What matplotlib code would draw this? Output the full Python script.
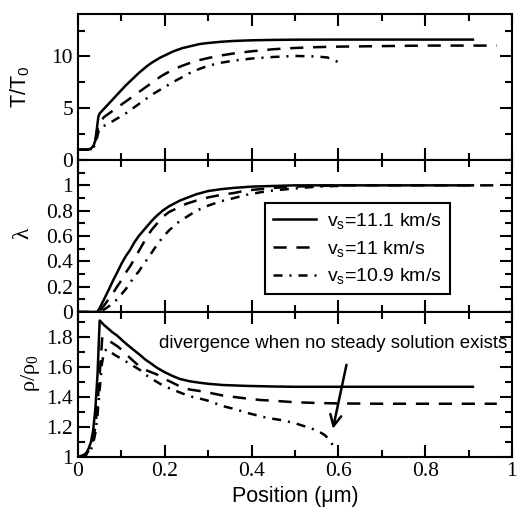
import matplotlib
matplotlib.use('Agg')
import matplotlib.pyplot as plt
from matplotlib.ticker import MultipleLocator

plt.rcParams['font.family'] = 'Liberation Sans'
plt.rcParams['mathtext.fontset'] = 'custom'
plt.rcParams['mathtext.rm'] = 'Liberation Sans'
plt.rcParams['mathtext.it'] = 'Liberation Sans:italic'
plt.rcParams['mathtext.default'] = 'regular'
plt.rcParams['lines.scale_dashes'] = False

# temperature panel, T/T0
t_x_111 = [0, 0.02, 0.03, 0.036, 0.04, 0.044, 0.047, 0.05, 0.06, 0.07, 0.08, 0.09, 0.1,
           0.11, 0.12, 0.13, 0.14, 0.15, 0.16, 0.17, 0.18, 0.19, 0.2, 0.22, 0.24, 0.26,
           0.28, 0.3, 0.33, 0.36, 0.4, 0.45, 0.5, 0.6, 0.7, 0.8, 0.91]
t_y_111 = [1, 1, 1.1, 1.4, 1.9, 3.2, 4.2, 4.5, 4.95, 5.4, 5.85, 6.3, 6.75,
           7.2, 7.6, 8.0, 8.4, 8.75, 9.1, 9.4, 9.65, 9.9, 10.1, 10.5, 10.8, 11.0,
           11.2, 11.3, 11.42, 11.5, 11.56, 11.6, 11.62, 11.63, 11.63, 11.63, 11.63]
t_x_110 = [0, 0.02, 0.03, 0.036, 0.04, 0.045, 0.05, 0.06, 0.07, 0.08, 0.09, 0.1, 0.11,
           0.12, 0.13, 0.14, 0.15, 0.16, 0.17, 0.18, 0.19, 0.2, 0.22, 0.24, 0.26, 0.28,
           0.3, 0.33, 0.36, 0.4, 0.45, 0.5, 0.55, 0.6, 0.7, 0.8, 0.965]
t_y_110 = [1, 1, 1.05, 1.3, 1.8, 3.0, 3.6, 4.15, 4.45, 4.75, 5.05, 5.35, 5.65,
           5.95, 6.25, 6.55, 6.85, 7.15, 7.45, 7.75, 8.05, 8.3, 8.75, 9.1, 9.4, 9.65,
           9.85, 10.1, 10.3, 10.5, 10.7, 10.82, 10.9, 10.95, 11.0, 11.05, 11.05]
t_x_109 = [0, 0.02, 0.03, 0.037, 0.042, 0.047, 0.05, 0.06, 0.07, 0.08, 0.09, 0.1, 0.11,
           0.12, 0.13, 0.14, 0.15, 0.16, 0.17, 0.18, 0.19, 0.2, 0.22, 0.24, 0.26, 0.28,
           0.3, 0.33, 0.36, 0.4, 0.45, 0.5, 0.55, 0.575, 0.6]
t_y_109 = [1, 1, 1.05, 1.3, 1.8, 2.7, 3.1, 3.3, 3.5, 3.75, 4.0, 4.25, 4.5,
           4.8, 5.1, 5.4, 5.7, 6.0, 6.3, 6.55, 6.8, 7.05, 7.55, 8.0, 8.45, 8.8,
           9.1, 9.4, 9.6, 9.8, 9.95, 10.05, 10.0, 9.9, 9.45]

# reaction progress panel, lambda
l_x_111 = [0, 0.044, 0.05, 0.06, 0.07, 0.081, 0.09, 0.1, 0.11, 0.12, 0.13, 0.14, 0.15,
           0.16, 0.17, 0.18, 0.195, 0.21, 0.235, 0.25, 0.273, 0.3, 0.33, 0.36, 0.4,
           0.45, 0.5, 0.6, 0.7, 0.8, 0.91]
l_y_111 = [0, 0, 0.03, 0.1, 0.17, 0.25, 0.31, 0.38, 0.44, 0.49, 0.55, 0.6, 0.64,
           0.68, 0.72, 0.755, 0.8, 0.835, 0.88, 0.9, 0.93, 0.955, 0.97, 0.98, 0.99,
           0.995, 1, 1, 1, 1, 1]
l_x_110 = [0, 0.048, 0.06, 0.07, 0.081, 0.09, 0.1, 0.11, 0.12, 0.13, 0.14, 0.15, 0.158,
           0.17, 0.18, 0.195, 0.21, 0.235, 0.25, 0.273, 0.3, 0.33, 0.36, 0.388, 0.42,
           0.45, 0.5, 0.55, 0.6, 0.7, 0.8, 0.965]
l_y_110 = [0, 0, 0.05, 0.1, 0.15, 0.2, 0.25, 0.31, 0.36, 0.42, 0.48, 0.54, 0.59,
           0.65, 0.69, 0.75, 0.79, 0.83, 0.855, 0.88, 0.905, 0.925, 0.94, 0.96, 0.97,
           0.98, 0.99, 0.995, 1, 1, 1, 1]
l_x_109 = [0, 0.05, 0.065, 0.081, 0.09, 0.1, 0.11, 0.12, 0.13, 0.14, 0.15, 0.158, 0.17,
           0.18, 0.195, 0.21, 0.235, 0.25, 0.273, 0.3, 0.33, 0.36, 0.388, 0.42, 0.45,
           0.5, 0.55, 0.6]
l_y_109 = [0, 0, 0.03, 0.07, 0.1, 0.14, 0.18, 0.23, 0.28, 0.32, 0.37, 0.41, 0.47,
           0.52, 0.59, 0.645, 0.72, 0.75, 0.8, 0.84, 0.875, 0.9, 0.925, 0.945, 0.96,
           0.975, 0.99, 0.995]

# density panel, rho/rho0
r_x_111 = [0, 0.01, 0.02, 0.025, 0.03, 0.035, 0.04, 0.045, 0.05, 0.06, 0.07, 0.08, 0.09,
           0.103, 0.115, 0.13, 0.143, 0.155, 0.17, 0.182, 0.2, 0.218, 0.235, 0.257, 0.28,
           0.3, 0.333, 0.388, 0.45, 0.5, 0.6, 0.7, 0.8, 0.91]
r_y_111 = [1, 1.005, 1.03, 1.06, 1.1, 1.18, 1.32, 1.55, 1.91, 1.88, 1.855, 1.83, 1.81,
           1.775, 1.745, 1.71, 1.68, 1.65, 1.62, 1.595, 1.565, 1.54, 1.52, 1.505, 1.495,
           1.488, 1.48, 1.474, 1.47, 1.468, 1.468, 1.468, 1.468, 1.468]
r_x_110 = [0, 0.02, 0.03, 0.035, 0.04, 0.045, 0.05, 0.056, 0.065, 0.074, 0.09, 0.103, 0.12,
           0.143, 0.16, 0.182, 0.2, 0.218, 0.235, 0.257, 0.28, 0.3, 0.333, 0.36, 0.388,
           0.42, 0.45, 0.5, 0.55, 0.6, 0.7, 0.8, 0.965]
r_y_110 = [1, 1.02, 1.07, 1.12, 1.2, 1.35, 1.55, 1.8, 1.785, 1.77, 1.74, 1.71, 1.66,
           1.6, 1.575, 1.55, 1.52, 1.495, 1.47, 1.45, 1.44, 1.43, 1.41, 1.4, 1.39,
           1.38, 1.375, 1.365, 1.36, 1.357, 1.355, 1.355, 1.355]
r_x_109 = [0, 0.02, 0.03, 0.035, 0.04, 0.045, 0.05, 0.055, 0.06, 0.066, 0.075, 0.085, 0.103,
           0.12, 0.143, 0.16, 0.182, 0.2, 0.218, 0.235, 0.257, 0.28, 0.3, 0.333, 0.36,
           0.395, 0.437, 0.471, 0.5, 0.538, 0.555, 0.568, 0.578, 0.587]
r_y_109 = [1, 1.015, 1.05, 1.09, 1.16, 1.28, 1.45, 1.62, 1.7, 1.72, 1.7, 1.68, 1.65,
           1.62, 1.58, 1.54, 1.5, 1.47, 1.45, 1.43, 1.405, 1.39, 1.375, 1.34, 1.32,
           1.29, 1.26, 1.245, 1.225, 1.19, 1.17, 1.147, 1.12, 1.08]

labels = [r'v$_s$=11.1 km/s', r'v$_s$=11 km/s', r'v$_s$=10.9 km/s']
dash_110 = (0, (9.5, 7))
dash_109 = (0, (6.5, 5, 1.5, 5))

fig = plt.figure(figsize=(5.22, 5.17), dpi=100)
ax_t = fig.add_axes([0.1494, 0.6905, 0.8314, 0.2824])
ax_l = fig.add_axes([0.1494, 0.3965, 0.8314, 0.294])
ax_r = fig.add_axes([0.1494, 0.1161, 0.8314, 0.2805])

lw = 1.8
ax_t.plot(t_x_111, t_y_111, color='black', lw=lw)
ax_t.plot(t_x_110, t_y_110, color='black', lw=lw, linestyle=dash_110)
ax_t.plot(t_x_109, t_y_109, color='black', lw=lw, linestyle=dash_109)

ax_l.plot(l_x_111, l_y_111, color='black', lw=lw, label=labels[0])
ax_l.plot(l_x_110, l_y_110, color='black', lw=lw, linestyle=dash_110, label=labels[1])
ax_l.plot(l_x_109, l_y_109, color='black', lw=lw, linestyle=dash_109, label=labels[2])

ax_r.plot(r_x_111, r_y_111, color='black', lw=lw)
ax_r.plot(r_x_110, r_y_110, color='black', lw=lw, linestyle=dash_110)
ax_r.plot(r_x_109, r_y_109, color='black', lw=lw, linestyle=dash_109)

ax_t.set_ylim(0, 14.1)
ax_t.yaxis.set_major_locator(MultipleLocator(5))
ax_t.yaxis.set_minor_locator(MultipleLocator(2.5))
ax_l.set_ylim(0, 1.2)
ax_l.set_yticks([0, 0.2, 0.4, 0.6, 0.8, 1])
ax_l.set_yticklabels(['0', '0.2', '0.4', '0.6', '0.8', '1'])
ax_l.yaxis.set_minor_locator(MultipleLocator(0.1))
ax_r.set_ylim(1, 1.967)
ax_r.set_yticks([1, 1.2, 1.4, 1.6, 1.8])
ax_r.set_yticklabels(['1', '1.2', '1.4', '1.6', '1.8'])
ax_r.yaxis.set_minor_locator(MultipleLocator(0.1))

for ax in (ax_t, ax_l, ax_r):
    ax.set_xlim(0, 1)
    ax.set_xticks([0, 0.2, 0.4, 0.6, 0.8, 1])
    ax.xaxis.set_minor_locator(MultipleLocator(0.1))
    ax.tick_params(which='both', direction='in', top=True, right=True, width=1.5)
    ax.tick_params(which='major', length=8.5)
    ax.tick_params(which='minor', length=5)
    for s in ax.spines.values():
        s.set_linewidth(1.5)
    for lab in ax.get_xticklabels() + ax.get_yticklabels():
        lab.set_fontfamily('Liberation Serif')
        lab.set_fontsize(15.5)

ax_t.tick_params(labelbottom=False)
ax_l.tick_params(labelbottom=False)
ax_r.set_xticklabels(['0', '0.2', '0.4', '0.6', '0.8', '1'])

fig.text(20 / 522, 1 - 87 / 517, r'T/T$_0$', rotation=90, ha='center', va='center', fontsize=15.5)
fig.text(23 / 522, 1 - 233 / 517, '\u03bb', rotation=90, ha='center', va='center',
         fontsize=17, family='Liberation Serif')
fig.text(30 / 522, 1 - 373 / 517, '\u03c1/\u03c1$_0$', rotation=90, ha='center', va='center',
         fontsize=16, family='Liberation Serif')
ax_r.set_xlabel('Position (\u03bcm)', fontsize=15.5, labelpad=4)

leg = ax_l.legend(loc='upper left', bbox_to_anchor=(0.431, 0.717), borderaxespad=0,
                  fontsize=14, handlelength=2.2, handletextpad=0.6, labelspacing=0.4,
                  borderpad=0.4, fancybox=False, framealpha=1, edgecolor='black')
leg.get_frame().set_linewidth(1.5)

ax_r.text(0.589, 1.76, 'divergence when no steady solution exists', ha='center', va='center',
          fontsize=13.4)
ax_r.annotate('', xy=(0.586, 1.17), xytext=(0.62, 1.633),
              arrowprops=dict(arrowstyle='->,head_length=0.8,head_width=0.4', color='black', lw=1.8))

plt.savefig('out.png', dpi=100)
plt.close()
